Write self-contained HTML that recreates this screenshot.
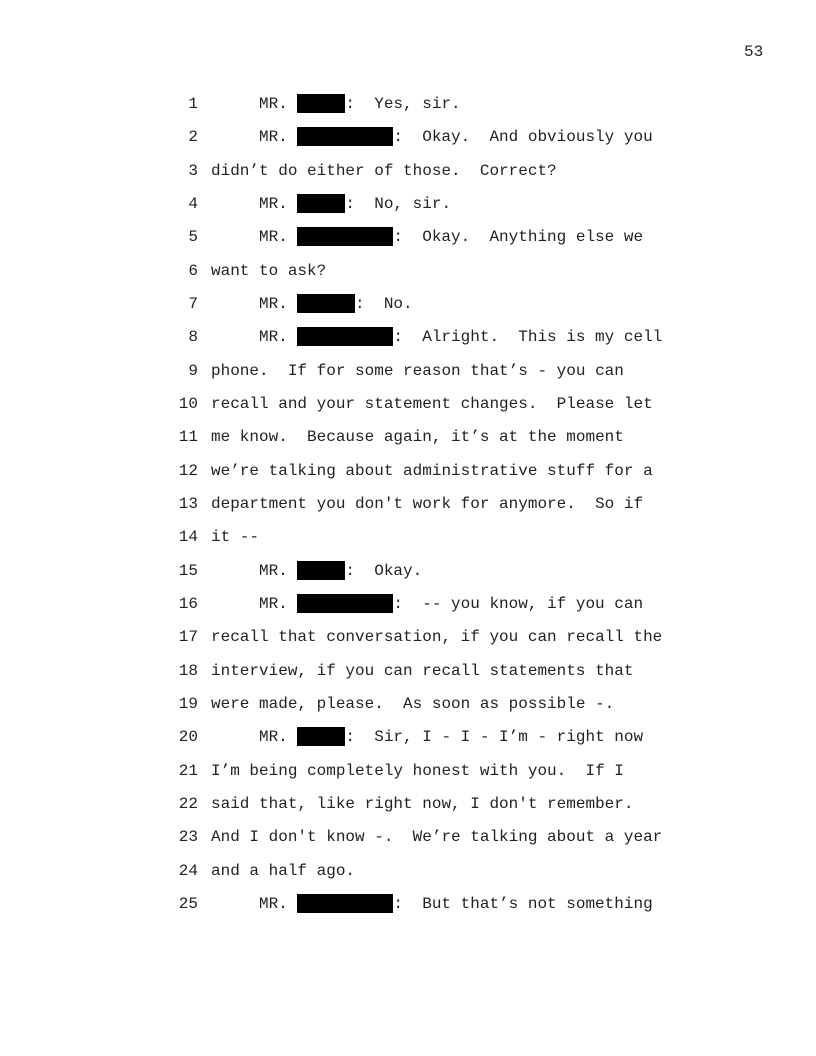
<!DOCTYPE html>
<html><head><meta charset="utf-8"><style>
body{margin:0;background:#fff;}
.pg{position:relative;width:816px;height:1056px;overflow:hidden;font-family:"Liberation Mono","DejaVu Sans Mono",monospace;font-size:16px;color:#222;}
.l{position:absolute;left:0;width:816px;height:19px;line-height:19px;white-space:pre;}
.n{position:absolute;right:618px;text-align:right;}
.t{position:absolute;left:211px;}
.b{display:inline-block;height:19px;background:#000;vertical-align:top;position:relative;top:-1px;}
.pn{position:absolute;left:744px;top:43px;line-height:19px;}
</style></head><body><div class="pg">
<div class="pn">53</div>
<div class="l" style="top:95px"><span class="n">1</span><span class="t">     MR. <span class="b" style="width:48px"></span>:  Yes, sir.</span></div>
<div class="l" style="top:128.3px"><span class="n">2</span><span class="t">     MR. <span class="b" style="width:96px"></span>:  Okay.  And obviously you</span></div>
<div class="l" style="top:161.7px"><span class="n">3</span><span class="t">didn’t do either of those.  Correct?</span></div>
<div class="l" style="top:195px"><span class="n">4</span><span class="t">     MR. <span class="b" style="width:48px"></span>:  No, sir.</span></div>
<div class="l" style="top:228.3px"><span class="n">5</span><span class="t">     MR. <span class="b" style="width:96px"></span>:  Okay.  Anything else we</span></div>
<div class="l" style="top:261.7px"><span class="n">6</span><span class="t">want to ask?</span></div>
<div class="l" style="top:295px"><span class="n">7</span><span class="t">     MR. <span class="b" style="width:57.6px"></span>:  No.</span></div>
<div class="l" style="top:328.3px"><span class="n">8</span><span class="t">     MR. <span class="b" style="width:96px"></span>:  Alright.  This is my cell</span></div>
<div class="l" style="top:361.7px"><span class="n">9</span><span class="t">phone.  If for some reason that’s - you can</span></div>
<div class="l" style="top:395px"><span class="n">10</span><span class="t">recall and your statement changes.  Please let</span></div>
<div class="l" style="top:428.3px"><span class="n">11</span><span class="t">me know.  Because again, it’s at the moment</span></div>
<div class="l" style="top:461.7px"><span class="n">12</span><span class="t">we’re talking about administrative stuff for a</span></div>
<div class="l" style="top:495px"><span class="n">13</span><span class="t">department you don't work for anymore.  So if</span></div>
<div class="l" style="top:528.3px"><span class="n">14</span><span class="t">it --</span></div>
<div class="l" style="top:561.7px"><span class="n">15</span><span class="t">     MR. <span class="b" style="width:48px"></span>:  Okay.</span></div>
<div class="l" style="top:595px"><span class="n">16</span><span class="t">     MR. <span class="b" style="width:96px"></span>:  -- you know, if you can</span></div>
<div class="l" style="top:628.3px"><span class="n">17</span><span class="t">recall that conversation, if you can recall the</span></div>
<div class="l" style="top:661.7px"><span class="n">18</span><span class="t">interview, if you can recall statements that</span></div>
<div class="l" style="top:695px"><span class="n">19</span><span class="t">were made, please.  As soon as possible -.</span></div>
<div class="l" style="top:728.3px"><span class="n">20</span><span class="t">     MR. <span class="b" style="width:48px"></span>:  Sir, I - I - I’m - right now</span></div>
<div class="l" style="top:761.7px"><span class="n">21</span><span class="t">I’m being completely honest with you.  If I</span></div>
<div class="l" style="top:795px"><span class="n">22</span><span class="t">said that, like right now, I don't remember.</span></div>
<div class="l" style="top:828.3px"><span class="n">23</span><span class="t">And I don't know -.  We’re talking about a year</span></div>
<div class="l" style="top:861.7px"><span class="n">24</span><span class="t">and a half ago.</span></div>
<div class="l" style="top:895px"><span class="n">25</span><span class="t">     MR. <span class="b" style="width:96px"></span>:  But that’s not something</span></div>
</div></body></html>
